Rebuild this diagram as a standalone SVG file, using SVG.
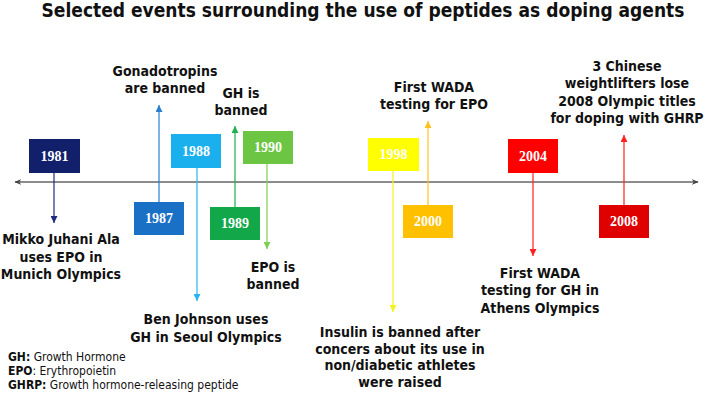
<svg xmlns="http://www.w3.org/2000/svg" width="728" height="393" viewBox="0 0 728 393">
<defs>
<style>
.t{font-family:"DejaVu Sans Condensed","DejaVu Sans",sans-serif;font-weight:bold;fill:#111;}
.lbl{font-size:14px;text-anchor:middle;}
.yr{font-family:"Liberation Serif","Times New Roman",serif;font-weight:bold;font-size:14px;fill:#fff;text-anchor:middle;}
.leg{font-family:"DejaVu Sans Condensed","DejaVu Sans",sans-serif;font-size:12px;fill:#111;}
.c{fill:none;stroke-width:1.2;}
</style>
<marker id="ax" viewBox="0 0 10 10" refX="9" refY="5" markerWidth="7" markerHeight="7" markerUnits="userSpaceOnUse" orient="auto-start-reverse"><path d="M0,1 L10,5 L0,9 L3,5 Z" fill="#444"/></marker>
<marker id="m1" viewBox="0 0 10 10" refX="10" refY="5" markerWidth="7" markerHeight="7" markerUnits="userSpaceOnUse" orient="auto"><path d="M0,0 L10,5 L0,10 Z" fill="#1f2a80"/></marker>
<marker id="m2" viewBox="0 0 10 10" refX="10" refY="5" markerWidth="7" markerHeight="7" markerUnits="userSpaceOnUse" orient="auto"><path d="M0,0 L10,5 L0,10 Z" fill="#2a7fd0"/></marker>
<marker id="m3" viewBox="0 0 10 10" refX="10" refY="5" markerWidth="7" markerHeight="7" markerUnits="userSpaceOnUse" orient="auto"><path d="M0,0 L10,5 L0,10 Z" fill="#28b4f0"/></marker>
<marker id="m4" viewBox="0 0 10 10" refX="10" refY="5" markerWidth="7" markerHeight="7" markerUnits="userSpaceOnUse" orient="auto"><path d="M0,0 L10,5 L0,10 Z" fill="#1fb050"/></marker>
<marker id="m5" viewBox="0 0 10 10" refX="10" refY="5" markerWidth="7" markerHeight="7" markerUnits="userSpaceOnUse" orient="auto"><path d="M0,0 L10,5 L0,10 Z" fill="#7ccf50"/></marker>
<marker id="m6" viewBox="0 0 10 10" refX="10" refY="5" markerWidth="7" markerHeight="7" markerUnits="userSpaceOnUse" orient="auto"><path d="M0,0 L10,5 L0,10 Z" fill="#f5f020"/></marker>
<marker id="m7" viewBox="0 0 10 10" refX="10" refY="5" markerWidth="7" markerHeight="7" markerUnits="userSpaceOnUse" orient="auto"><path d="M0,0 L10,5 L0,10 Z" fill="#ffc020"/></marker>
<marker id="m8" viewBox="0 0 10 10" refX="10" refY="5" markerWidth="7" markerHeight="7" markerUnits="userSpaceOnUse" orient="auto"><path d="M0,0 L10,5 L0,10 Z" fill="#ff2020"/></marker>
</defs>
<rect width="728" height="393" fill="#fff"/>
<text class="t" x="363" y="17" font-size="19" text-anchor="middle">Selected events surrounding the use of peptides as doping agents</text>

<g id="connectors">
<line x1="15" y1="182" x2="698" y2="182" stroke="#666" stroke-width="1.5" marker-start="url(#ax)" marker-end="url(#ax)"/>
<line class="c" x1="54" y1="173" x2="54" y2="223" stroke="#1f2a80" marker-end="url(#m1)"/>
<line class="c" x1="159" y1="202" x2="159" y2="105" stroke="#2a7fd0" marker-end="url(#m2)"/>
<line class="c" x1="197" y1="168" x2="197" y2="301" stroke="#28b4f0" marker-end="url(#m3)"/>
<line class="c" x1="235" y1="207" x2="235" y2="126" stroke="#1fb050" marker-end="url(#m4)"/>
<line class="c" x1="267" y1="164" x2="267" y2="249" stroke="#7ccf50" marker-end="url(#m5)"/>
<line class="c" x1="393" y1="171" x2="393" y2="312" stroke="#f5f020" marker-end="url(#m6)"/>
<line class="c" x1="428" y1="205" x2="428" y2="121" stroke="#ffc020" marker-end="url(#m7)"/>
<line class="c" x1="533" y1="173" x2="533" y2="256" stroke="#ff2020" marker-end="url(#m8)"/>
<line class="c" x1="624" y1="205" x2="624" y2="135" stroke="#ff2020" marker-end="url(#m8)"/>
</g>

<g id="n1981"><rect x="29" y="139" width="51" height="34" fill="#121f6b"/><text class="yr" x="54.5" y="161">1981</text></g>
<g id="n1987"><rect x="134" y="202" width="50" height="33" fill="#1a70c4"/><text class="yr" x="159" y="223">1987</text></g>
<g id="n1988"><rect x="171" y="134" width="50" height="34" fill="#1ab0ee"/><text class="yr" x="196" y="156">1988</text></g>
<g id="n1989"><rect x="210" y="207" width="50" height="33" fill="#12a84a"/><text class="yr" x="235" y="228">1989</text></g>
<g id="n1990"><rect x="243" y="131" width="50" height="33" fill="#6cc644"/><text class="yr" x="268" y="152">1990</text></g>
<g id="n1998"><rect x="368" y="138" width="51" height="33" fill="#ffff00"/><text class="yr" x="393.5" y="159">1998</text></g>
<g id="n2000"><rect x="403" y="205" width="50" height="33" fill="#ffc000"/><text class="yr" x="428" y="226">2000</text></g>
<g id="n2004"><rect x="508" y="139" width="50" height="34" fill="#ff0000"/><text class="yr" x="533" y="161">2004</text></g>
<g id="n2008"><rect x="599" y="205" width="50" height="33" fill="#df0000"/><text class="yr" x="624" y="226">2008</text></g>

<g id="lbl1981"><text class="t lbl" x="61" y="244">Mikko Juhani Ala</text><text class="t lbl" x="61" y="262">uses EPO in</text><text class="t lbl" x="61" y="279">Munich Olympics</text></g>
<g id="lbl1987"><text class="t lbl" x="165" y="76">Gonadotropins</text><text class="t lbl" x="165" y="93">are banned</text></g>
<g id="lbl1988"><text class="t lbl" x="206" y="324">Ben Johnson uses</text><text class="t lbl" x="206" y="342">GH in Seoul Olympics</text></g>
<g id="lbl1989"><text class="t lbl" x="241" y="98">GH is</text><text class="t lbl" x="241" y="115">banned</text></g>
<g id="lbl1990"><text class="t lbl" x="273" y="272">EPO is</text><text class="t lbl" x="273" y="289">banned</text></g>
<g id="lbl1998"><text class="t lbl" x="400" y="337">Insulin is banned after</text><text class="t lbl" x="400" y="354">concers about its use in</text><text class="t lbl" x="400" y="370">non/diabetic athletes</text><text class="t lbl" x="400" y="387">were raised</text></g>
<g id="lbl2000"><text class="t lbl" x="434" y="92">First WADA</text><text class="t lbl" x="434" y="109">testing for EPO</text></g>
<g id="lbl2004"><text class="t lbl" x="540" y="278">First WADA</text><text class="t lbl" x="540" y="295">testing for GH in</text><text class="t lbl" x="540" y="313">Athens Olympics</text></g>
<g id="lbl2008"><text class="t lbl" x="627" y="71">3 Chinese</text><text class="t lbl" x="627" y="88">weightlifters lose</text><text class="t lbl" x="627" y="106">2008 Olympic titles</text><text class="t lbl" x="627" y="123">for doping with GHRP</text></g>

<g id="legend">
<text class="leg" x="8" y="361"><tspan font-weight="bold">GH:</tspan> Growth Hormone</text>
<text class="leg" x="8" y="375"><tspan font-weight="bold">EPO</tspan>: Erythropoietin</text>
<text class="leg" x="8" y="389"><tspan font-weight="bold">GHRP:</tspan> Growth hormone-releasing peptide</text>
</g>
</svg>
